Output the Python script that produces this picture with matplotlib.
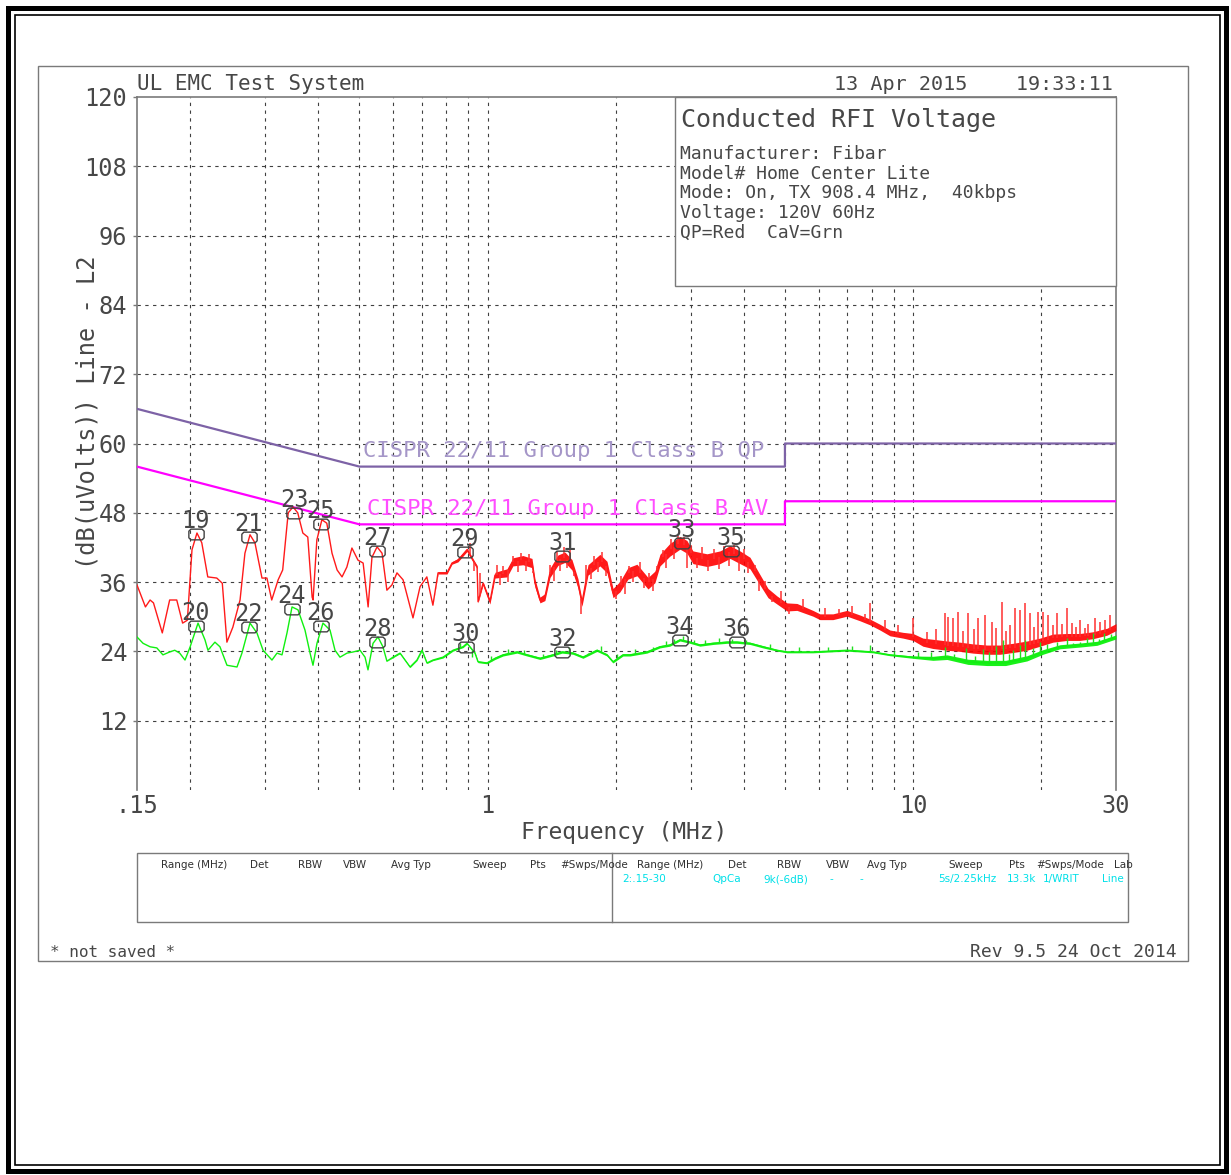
import numpy as np
import matplotlib
matplotlib.use('Agg')
import matplotlib.pyplot as plt
from matplotlib.patches import Rectangle
from matplotlib.path import Path
from matplotlib.lines import Line2D

# ---------------- data ----------------
y_ticks = [12, 24, 36, 48, 60, 72, 84, 96, 108, 120]
x_ticks = [0.15, 1, 10, 30]
x_tick_labels = ['.15', '1', '10', '30']
grid_freqs = [0.2, 0.3, 0.4, 0.5, 0.6, 0.7, 0.8, 0.9, 1, 2, 3, 4, 5, 6, 7, 8, 9, 10, 20]
grid_levels = [12, 24, 36, 48, 60, 72, 84, 96, 108]

# CISPR 22 class B limits
qp_limit_freq = [0.15, 0.5, 5, 5, 30]
qp_limit_level = [66, 56, 56, 60, 60]
av_limit_freq = [0.15, 0.5, 5, 5, 30]
av_limit_level = [56, 46, 46, 50, 50]

# Quasi-peak (red) trace
qp_freq = [0.150, 0.157, 0.161, 0.164, 0.172, 0.179, 0.186, 0.192, 0.197, 0.202,
           0.2075, 0.213, 0.220, 0.231, 0.238, 0.244, 0.252, 0.262, 0.269, 0.2765,
           0.284, 0.295, 0.303, 0.311, 0.322, 0.330, 0.340, 0.349, 0.358, 0.368,
           0.378, 0.387, 0.389, 0.397, 0.408, 0.419, 0.431, 0.443, 0.455, 0.467,
           0.480, 0.496, 0.510, 0.524, 0.535, 0.550, 0.565, 0.580, 0.596, 0.6125,
           0.633, 0.668, 0.694, 0.720, 0.744, 0.765, 0.803, 0.825, 0.852, 0.895,
           0.924, 0.945, 0.950, 0.976, 1.013, 1.041, 1.111, 1.147, 1.211, 1.272,
           1.293, 1.328, 1.364, 1.402, 1.464, 1.520, 1.579, 1.631, 1.667, 1.722,
           1.837, 1.909, 1.972, 2.047, 2.138, 2.245, 2.383, 2.474, 2.542, 2.683,
           2.833, 2.942, 3.039, 3.279, 3.518, 3.714, 3.920, 4.138, 4.368, 4.562,
           4.789, 5.055, 5.336, 5.818, 6.043, 6.483, 6.995, 7.504, 7.921, 8.361,
           8.826, 9.471, 9.998, 10.55, 11.14, 12.02, 12.89, 13.83, 14.92, 16.00,
           17.17, 18.53, 19.88, 21.33, 23.01, 24.68, 26.49, 28.56, 30.0]
qp_level = [35.5, 31.7, 32.9, 32.4, 27.2, 32.9, 32.9, 28.9, 29.4, 41.6,
            44.5, 42.8, 36.9, 36.7, 35.8, 25.6, 28.2, 32.9, 41.0, 44.2,
            42.8, 36.7, 36.7, 32.9, 36.4, 38.1, 48.0, 49.0, 48.0, 44.5,
            43.8, 33.4, 32.9, 43.3, 46.8, 46.2, 41.0, 38.1, 36.9, 38.6,
            41.9, 39.8, 39.3, 31.7, 40.3, 42.1, 41.0, 34.6, 35.5, 37.6,
            36.4, 29.8, 35.2, 36.9, 32.0, 37.6, 37.6, 39.3, 39.8, 41.6,
            39.8, 38.6, 32.6, 35.8, 32.6, 37.2, 37.6, 39.5, 39.8, 39.3,
            35.8, 32.9, 33.4, 37.6, 39.8, 40.3, 39.0, 35.8, 32.4, 38.1,
            39.8, 38.6, 34.1, 35.2, 37.5, 38.1, 35.8, 36.9, 39.8, 41.6,
            42.8, 42.1, 40.3, 39.8, 40.3, 41.2, 40.3, 39.3, 36.4, 34.1,
            32.9, 31.7, 31.7, 30.6, 30.0, 30.0, 30.6, 29.8, 29.1, 28.2,
            27.2, 26.8, 26.5, 25.6, 25.3, 25.0, 24.8, 24.5, 24.3, 24.3,
            24.6, 25.0, 25.6, 26.3, 26.5, 26.5, 26.8, 27.4, 28.2]
qp_spread = [0, 0, 0, 0, 0, 0, 0, 0, 0, 0,
             0, 0, 0, 0, 0, 0, 0, 0, 0, 0,
             0, 0, 0, 0, 0, 0, 0, 0, 0, 0,
             0, 0, 0, 0, 0, 0, 0, 0, 0, 0,
             0, 0, 0, 0, 0, 0, 0, 0, 0, 0,
             0, 0, 0, 0, 0, 0.2, 0.2, 0.2, 0.3, 0.3,
             0.3, 0.3, 0.2, 0.3, 0.4, 0.5, 0.7, 0.7, 0.8, 0.8,
             0.7, 0.5, 0.6, 0.8, 0.9, 0.9, 0.9, 0.8, 0.6, 0.9,
             1.0, 1.0, 0.8, 0.9, 1.0, 1.0, 1.0, 1.0, 1.0, 1.1,
             1.1, 1.1, 1.1, 1.1, 1.1, 1.1, 1.1, 1.0, 0.9, 0.8,
             0.7, 0.7, 0.6, 0.5, 0.5, 0.5, 0.5, 0.5, 0.5, 0.5,
             0.5, 0.5, 0.6, 0.7, 0.8, 0.8, 0.8, 0.8, 0.8, 0.8,
             0.8, 0.8, 0.7, 0.7, 0.6, 0.6, 0.6, 0.6, 0.6]
# short excursions of the noisy QP sweep (frequency, tip level)
qp_hair_freq = [0.91, 0.93, 0.96, 1.05, 1.07, 1.09, 1.12, 1.15, 1.18, 1.20,
                1.23, 1.25, 1.28, 1.40, 1.43, 1.46, 1.48, 1.51, 1.54, 1.56,
                1.60, 1.66, 1.70, 1.75, 1.78, 1.82, 1.86, 1.90, 1.95, 2.00,
                2.06, 2.10, 2.15, 2.20, 2.28, 2.33, 2.40, 2.45, 2.50, 2.58,
                2.62, 2.70, 2.75, 2.80, 2.90, 2.95, 3.00, 3.10, 3.20, 3.30,
                3.40, 3.50, 3.60, 3.70, 3.80, 3.90, 4.00, 4.10, 4.25, 4.35,
                4.50, 4.65, 4.90, 5.10, 5.50, 6.20, 6.70, 7.20, 7.70, 7.92,
                8.6, 9.2, 9.998, 10.79, 11.3, 11.88, 12.08, 12.41, 12.75, 13.1,
                13.46, 13.9, 14.21, 14.76, 15.33, 15.7, 16.18, 16.5, 16.9, 17.37,
                17.8, 18.33, 18.83, 19.2, 19.67, 20.2, 20.8, 21.3, 21.8, 22.4,
                23.0, 23.6, 24.2, 24.7, 25.3, 25.8, 26.8, 27.5, 28.2, 29.0]
qp_hair_top = [42.8, 38.0, 37.5, 39.0, 35.5, 38.8, 36.0, 40.6, 37.8, 41.0,
               38.0, 40.8, 37.5, 39.0, 36.2, 41.3, 38.0, 42.0, 38.5, 41.5,
               37.0, 30.5, 39.0, 36.5, 40.5, 37.8, 41.2, 37.0, 36.0, 33.0,
               37.0, 34.0, 38.8, 36.0, 39.5, 35.0, 37.5, 34.5, 38.8, 41.5,
               38.5, 43.5, 40.0, 44.0, 43.8, 38.5, 42.5, 38.5, 42.0, 38.0,
               41.8, 38.2, 42.2, 38.8, 42.5, 38.0, 41.8, 37.5, 39.0, 34.5,
               36.2, 32.5, 34.5, 30.5, 33.0, 31.5, 31.3, 31.8, 30.5, 32.3,
               29.5, 28.6, 29.8, 27.4, 27.8, 30.6, 30.0, 29.8, 30.8, 27.5,
               30.6, 27.8, 29.8, 30.3, 29.1, 28.0, 32.6, 27.6, 28.6, 31.5,
               31.2, 32.4, 30.6, 28.2, 30.8, 30.8, 30.3, 28.5, 30.6, 28.7,
               31.5, 28.9, 28.2, 29.4, 28.0, 28.7, 29.8, 29.1, 29.5, 30.3]

# CISPR average (green) trace
cav_freq = [0.150, 0.155, 0.161, 0.167, 0.1726, 0.179, 0.184, 0.189, 0.1945, 0.200,
            0.2087, 0.2167, 0.2202, 0.2287, 0.2350, 0.2441, 0.2577, 0.2647, 0.2765, 0.2871,
            0.2967, 0.3114, 0.3200, 0.3288, 0.3378, 0.3471, 0.3585, 0.3723, 0.3827, 0.3888,
            0.3973, 0.4104, 0.4263, 0.4380, 0.4500, 0.4673, 0.4829, 0.5015, 0.5153, 0.5236,
            0.5381, 0.5527, 0.5677, 0.5802, 0.5994, 0.6227, 0.6575, 0.6825, 0.7014, 0.7204,
            0.7442, 0.7858, 0.8297, 0.8757, 0.8948, 0.9345, 0.9496, 0.9970, 1.0411, 1.0872,
            1.1727, 1.2380, 1.3279, 1.4250, 1.496, 1.588, 1.676, 1.808, 1.9085, 1.9715,
            2.081, 2.161, 2.369, 2.542, 2.683, 2.833, 2.990, 3.156, 3.387, 3.654,
            3.857, 4.138, 4.439, 4.789, 5.055, 5.818, 6.995, 8.05, 8.826, 9.998,
            11.14, 12.02, 13.46, 14.92, 16.5, 18.53, 20.2, 22.14, 24.68, 27.06,
            30.0]
cav_level = [26.5, 25.4, 24.8, 24.6, 23.4, 23.9, 24.2, 23.7, 22.5, 24.8,
             28.9, 26.0, 24.2, 25.6, 24.8, 21.6, 21.3, 23.7, 28.9, 27.2,
             24.2, 22.5, 23.7, 23.4, 27.2, 31.7, 31.2, 27.7, 23.7, 21.6,
             25.4, 28.9, 27.7, 24.2, 23.0, 23.7, 23.9, 24.2, 23.0, 20.8,
             25.4, 26.5, 24.8, 22.3, 23.0, 23.7, 21.3, 22.5, 24.2, 22.0,
             22.5, 23.0, 24.2, 24.8, 25.4, 23.7, 22.2, 22.0, 22.8, 23.4,
             23.9, 23.4, 22.8, 23.4, 23.9, 23.7, 23.0, 24.2, 23.4, 22.2,
             23.4, 23.4, 23.9, 24.8, 25.1, 26.0, 25.6, 25.1, 25.4, 25.6,
             25.6, 25.4, 24.8, 24.2, 23.9, 23.9, 24.2, 23.9, 23.4, 23.0,
             22.8, 23.0, 22.2, 22.0, 22.0, 22.8, 23.9, 24.8, 25.1, 25.4,
             26.5]
cav_spread = [0, 0, 0, 0, 0, 0, 0, 0, 0, 0,
              0, 0, 0, 0, 0, 0, 0, 0, 0, 0,
              0, 0, 0, 0, 0, 0, 0, 0, 0, 0,
              0, 0, 0, 0, 0, 0, 0, 0, 0, 0,
              0, 0, 0, 0, 0.1, 0.1, 0.1, 0.1, 0.1, 0.1,
              0.1, 0.15, 0.15, 0.15, 0.15, 0.15, 0.15, 0.15, 0.2, 0.2,
              0.2, 0.2, 0.2, 0.2, 0.2, 0.2, 0.2, 0.2, 0.2, 0.2,
              0.2, 0.2, 0.2, 0.2, 0.2, 0.2, 0.2, 0.2, 0.2, 0.2,
              0.2, 0.2, 0.2, 0.15, 0.15, 0.15, 0.15, 0.15, 0.15, 0.2,
              0.35, 0.4, 0.45, 0.45, 0.45, 0.45, 0.4, 0.35, 0.35, 0.35,
              0.35]
cav_hair_freq = [0.86, 0.92, 1.02, 1.12, 1.22, 1.35, 1.45, 1.55, 1.72, 1.85,
                 2.02, 2.22, 2.45, 2.62, 2.75, 2.88, 3.05, 3.25, 3.5, 3.75,
                 4.05, 4.6, 5.4, 6.3, 7.2, 7.92, 9.0, 10.3, 11.0, 11.88,
                 12.5, 13.3, 14.0, 14.6, 15.1, 15.7, 16.3, 16.8, 17.17, 17.8,
                 18.33, 19.1, 19.88, 20.7, 21.8, 23.0, 23.8, 24.7, 25.6, 26.5,
                 27.3, 28.1, 29.2]
cav_hair_top = [25.5, 23.0, 23.2, 24.5, 24.2, 23.5, 24.3, 24.7, 23.8, 24.9,
                23.6, 24.5, 24.8, 25.8, 26.2, 26.6, 25.9, 26.0, 26.3, 26.2,
                25.9, 25.2, 24.7, 24.8, 24.9, 25.1, 24.0, 23.9, 23.9, 24.8,
                23.6, 24.6, 23.2, 24.4, 23.9, 24.9, 26.0, 23.6, 24.2, 25.1,
                26.0, 24.6, 25.6, 25.2, 25.6, 26.3, 25.4, 25.6, 26.4, 27.2,
                26.2, 27.2, 27.0]

# peak markers
marker_num = [19, 20, 21, 22, 23, 24, 25, 26, 27, 28, 29, 30, 31, 32, 33, 34, 35, 36]
marker_freq = [0.206, 0.206, 0.275, 0.275, 0.351, 0.347, 0.406, 0.406, 0.55, 0.55,
               0.885, 0.89, 1.50, 1.50, 2.86, 2.83, 3.73, 3.86]
marker_level = [44.3, 28.4, 43.8, 28.2, 48.0, 31.3, 46.1, 28.4, 41.4, 25.6,
                41.2, 24.8, 40.5, 23.9, 42.8, 26.0, 41.4, 25.6]

info_title = 'Conducted RFI Voltage'
info_lines = ['Manufacturer: Fibar', 'Model# Home Center Lite',
              'Mode: On, TX 908.4 MHz,  40kbps', 'Voltage: 120V 60Hz', 'QP=Red  CaV=Grn']

table_headers = ['Range (MHz)', 'Det', 'RBW', 'VBW', 'Avg Typ', 'Sweep', 'Pts', '#Swps/Mode']
table_left_x = [161, 250, 298, 343, 391, 472, 530, 560]
table_right_headers = ['Range (MHz)', 'Det', 'RBW', 'VBW', 'Avg Typ', 'Sweep', 'Pts', '#Swps/Mode', 'Lab']
table_right_x = [637, 728, 777, 826, 867, 948, 1009, 1036, 1114]
table_values = ['2:.15-30', 'QpCa', '9k(-6dB)', '-', '-', '5s/2.25kHz', '13.3k', '1/WRIT', 'Line']
table_values_x = [622, 712, 763, 829, 859, 938, 1007, 1043, 1102]

# ---------------- drawing ----------------
W, H = 1231, 1175
MONO = 'DejaVu Sans Mono'
NARROW = ['Liberation Sans Narrow', 'DejaVu Sans']
TC = '#474747'
GRID = '#404040'
FRAME = '#7a7a7a'

fig = plt.figure(figsize=(W / 100, H / 100), dpi=100)
fig.patch.set_facecolor('white')


def fx(px):
    return px / W


def fy(py):
    return 1 - py / H


ax = fig.add_axes([fx(137), fy(790), fx(1116) - fx(137), fy(97) - fy(790)])
ax.set_xscale('log')
ax.set_xlim(0.15, 30)
ax.set_ylim(0, 120)
ax.set_facecolor('white')

for s in ['left', 'top', 'right']:
    ax.spines[s].set_color(FRAME)
    ax.spines[s].set_linewidth(1.2)
ax.spines['bottom'].set_visible(False)

ax.set_xticks(x_ticks)
ax.set_xticklabels(x_tick_labels, fontfamily=MONO, fontsize=17, color=TC)
ax.xaxis.set_minor_locator(matplotlib.ticker.NullLocator())
ax.tick_params(axis='x', length=0, pad=3)
ax.set_yticks(y_ticks)
ax.set_yticklabels([str(v) for v in y_ticks], fontfamily=MONO, fontsize=17, color=TC)
ax.tick_params(axis='y', length=3, width=1, color=FRAME, pad=4)

for f in grid_freqs:
    ax.axvline(f, color=GRID, lw=0.8, ls=(0, (3, 4)), zorder=1)
for lv in grid_levels:
    ax.axhline(lv, color=GRID, lw=0.8, ls=(0, (3, 4)), zorder=1)

# limit lines
ax.plot(qp_limit_freq, qp_limit_level, color='#7d62a6', lw=1.6, zorder=3)
ax.plot(av_limit_freq, av_limit_level, color='#ff00ff', lw=1.6, zorder=3)
ax.text(0.51, 57.6, 'CISPR 22/11 Group 1 Class B QP', color='#a596c8', fontsize=16,
        fontfamily=MONO, ha='left', va='baseline', zorder=3)
ax.text(0.52, 47.6, 'CISPR 22/11 Group 1 Class B AV', color='#ff4dff', fontsize=16,
        fontfamily=MONO, ha='left', va='baseline', zorder=3)

# quasi-peak trace
qf = np.array(qp_freq)
ql = np.array(qp_level)
qs = np.array(qp_spread)
ax.fill_between(qf, ql - qs, ql + qs, color='#ff0000', lw=0, alpha=0.9, zorder=3)
ax.plot(qf, ql, color='#ff1a1a', lw=1.0, zorder=3)
q_base = np.interp(np.log10(qp_hair_freq), np.log10(qf), ql)
ax.vlines(qp_hair_freq, q_base, qp_hair_top, color='#ff3030', lw=1.1, zorder=3)

# average trace
cf = np.array(cav_freq)
cl = np.array(cav_level)
cs = np.array(cav_spread)
ax.fill_between(cf, cl - cs, cl + cs, color='#00f000', lw=0, alpha=0.9, zorder=4)
ax.plot(cf, cl, color='#10f010', lw=1.0, zorder=4)
c_base = np.interp(np.log10(cav_hair_freq), np.log10(cf), cl)
ax.vlines(cav_hair_freq, c_base, cav_hair_top, color='#20e020', lw=1.0, zorder=4)

# markers
w, h, c = 0.6, 0.42, 0.16
verts = [(-w + c, -h), (w - c, -h), (w, -h + c), (w, h - c), (w - c, h),
         (-w + c, h), (-w, h - c), (-w, -h + c), (-w + c, -h)]
mpath = Path(verts, [Path.MOVETO] + [Path.LINETO] * 7 + [Path.CLOSEPOLY])
ax.plot(marker_freq, marker_level, ls='none', marker=mpath, markersize=11,
        mfc='none', mec='#404040', mew=1.0, zorder=6)
for n, f, lv in zip(marker_num, marker_freq, marker_level):
    ax.annotate(str(n), (f, lv), xytext=(0, 6), textcoords='offset pixels',
                ha='center', va='baseline', fontsize=17, fontfamily=MONO,
                color=TC, zorder=7)

# info box
x0 = (675 - 137) / (1116 - 137)
y0 = (790 - 286) / (790 - 97)
box = Rectangle((x0, y0), 1 - x0, 1 - y0, transform=ax.transAxes, facecolor='white',
                edgecolor=FRAME, lw=1.0, zorder=8, clip_on=False)
ax.add_patch(box)
fig.text(fx(681), fy(127), info_title, fontsize=18, fontfamily=MONO, color=TC,
         ha='left', va='baseline', zorder=9)
for i, line in enumerate(info_lines):
    fig.text(fx(680), fy(159 + i * 19.6), line, fontsize=13, fontfamily=MONO,
             color=TC, ha='left', va='baseline', zorder=9)

# headers
fig.text(fx(137), fy(90), 'UL EMC Test System', fontsize=15, fontfamily=MONO,
         color=TC, ha='left', va='baseline')
fig.text(fx(1113), fy(90), '13 Apr 2015    19:33:11', fontsize=14.5, fontfamily=MONO,
         color=TC, ha='right', va='baseline')

fig.text(fx(624), fy(832), 'Frequency (MHz)', fontsize=16.5, fontfamily=MONO,
         color=TC, ha='center', va='center')
fig.text(fx(88), fy(412), '(dB(uVolts)) Line - L2', fontsize=17, fontfamily=MONO,
         color=TC, ha='center', va='center', rotation=90)

# outer frames
fig.add_artist(Rectangle((fx(38), fy(961)), fx(1188) - fx(38), fy(66) - fy(961),
                         transform=fig.transFigure, fill=False, ec=FRAME, lw=1.0))
fig.add_artist(Rectangle((fx(8), fy(1171)), fx(1226) - fx(8), fy(8) - fy(1171),
                         transform=fig.transFigure, fill=False, ec='black', lw=3.6))
fig.add_artist(Rectangle((fx(14.5), fy(1165)), fx(1220) - fx(14.5), fy(14.5) - fy(1165),
                         transform=fig.transFigure, fill=False, ec='black', lw=1.2))

# settings table
fig.add_artist(Rectangle((fx(137), fy(922)), fx(1128) - fx(137), fy(853) - fy(922),
                         transform=fig.transFigure, fill=False, ec=FRAME, lw=1.0))
fig.add_artist(Line2D([fx(612), fx(612)], [fy(853), fy(922)], transform=fig.transFigure,
                      color=FRAME, lw=1.0))
for t, x in zip(table_headers, table_left_x):
    fig.text(fx(x), fy(865), t, fontsize=7.5, fontfamily=NARROW, color='#303030',
             ha='left', va='center')
for t, x in zip(table_right_headers, table_right_x):
    fig.text(fx(x), fy(865), t, fontsize=7.5, fontfamily=NARROW, color='#303030',
             ha='left', va='center')
for t, x in zip(table_values, table_values_x):
    fig.text(fx(x), fy(879), t, fontsize=7.5, fontfamily=NARROW, color='#00e0e8',
             ha='left', va='center')

fig.text(fx(50), fy(957), '* not saved *', fontsize=11.5, fontfamily=MONO, color=TC,
         ha='left', va='baseline')
fig.text(fx(1177), fy(957), 'Rev 9.5 24 Oct 2014', fontsize=13, fontfamily=MONO,
         color=TC, ha='right', va='baseline')

fig.savefig('out.png', dpi=100, facecolor='white')
